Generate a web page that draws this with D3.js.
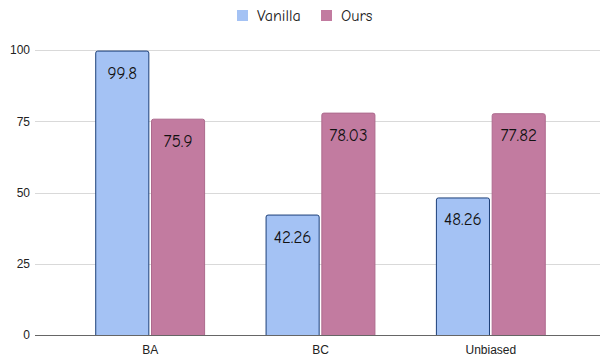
<!DOCTYPE html>
<html>
<head>
<meta charset="utf-8">
<script src="https://cdn.jsdelivr.net/npm/d3@7"></script>
<style>
  body { margin: 0; background: #fff; }
  svg { display: block; }
  .lbl { font-family: "Comic Sans MS", "Comic Neue", "DejaVu Sans", sans-serif; }
  .tick text { font-family: "Liberation Sans", Arial, sans-serif; }
</style>
</head>
<body>
<svg width="600" height="359"></svg>
<script>
var categories = ["BA", "BC", "Unbiased"];
var seriesNames = ["Vanilla", "Ours"];
var vanilla = [99.8, 42.26, 48.26];
var ours = [75.9, 78.03, 77.82];
var yTicks = [0, 25, 50, 75, 100];

var fills = { Vanilla: "#a4c2f4", Ours: "#c27ba0" };
var strokes = { Vanilla: "#1c3f78", Ours: "#ad6a8d" };

var svg = d3.select("svg"),
    width = +svg.attr("width"),
    height = +svg.attr("height");

var rows = categories.map(function (c, i) {
    return { cat: c, Vanilla: vanilla[i], Ours: ours[i] };
});

var y = d3.scaleLinear().domain([0, 100]).range([335, 50]);

var x0 = d3.scaleBand().domain(categories).range([65, 576]).paddingInner(0.355).paddingOuter(0.1775);
var x1 = d3.scaleBand().domain(seriesNames).range([0, x0.bandwidth()]).paddingInner(0.03);

// gridlines
svg.append("g")
    .selectAll("line")
    .data(yTicks)
    .enter().append("line")
    .attr("x1", 35).attr("x2", width)
    .attr("y1", function (d) { return Math.round(y(d)) + 0.5; })
    .attr("y2", function (d) { return Math.round(y(d)) + 0.5; })
    .attr("stroke", function (d) { return d === 0 ? "#666" : "#d9d9d9"; })
    .attr("stroke-width", 1);

// y axis labels
var yAxis = svg.append("g")
    .attr("transform", "translate(30,0)")
    .call(d3.axisLeft(y).tickValues(yTicks).tickSize(0).tickPadding(0));
yAxis.select(".domain").remove();
yAxis.selectAll("text").attr("font-size", 12).attr("fill", "#222");

// x axis labels
var xAxis = svg.append("g")
    .attr("transform", "translate(0,340)")
    .call(d3.axisBottom(x0).tickSize(0).tickPadding(5));
xAxis.select(".domain").remove();
xAxis.selectAll("text").attr("class", "lbl").attr("font-size", 12).attr("fill", "#222");

// bars
var groups = svg.append("g")
    .selectAll("g")
    .data(rows)
    .enter().append("g")
    .attr("transform", function (d) { return "translate(" + x0(d.cat) + ",0)"; });

var bars = groups.selectAll("g")
    .data(function (d) { return seriesNames.map(function (s) { return { key: s, value: d[s] }; }); })
    .enter().append("g");

bars.append("path")
    .attr("d", function (d) {
        var x = x1(d.key) + 0.5, w = x1.bandwidth() - 1, top = y(d.value) + 0.5, bot = y(0), r = 2;
        return "M" + x + "," + bot + "V" + (top + r) + "Q" + x + "," + top + " " + (x + r) + "," + top +
            "H" + (x + w - r) + "Q" + (x + w) + "," + top + " " + (x + w) + "," + (top + r) + "V" + bot;
    })
    .attr("fill", function (d) { return fills[d.key]; })
    .attr("stroke", function (d) { return strokes[d.key]; })
    .attr("stroke-width", 1);

bars.append("text")
    .attr("class", "lbl")
    .attr("x", function (d) { return x1(d.key) + x1.bandwidth() / 2; })
    .attr("y", function (d) { return y(d.value) + 28; })
    .attr("text-anchor", "middle")
    .attr("font-size", 17)
    .attr("fill", "#111")
    .text(function (d) { return d.value; });

// legend
var legend = svg.append("g").attr("transform", "translate(237,10)");
var items = legend.selectAll("g")
    .data(seriesNames)
    .enter().append("g")
    .attr("transform", function (d, i) { return "translate(" + (i * 84) + ",0)"; });
items.append("rect")
    .attr("width", 11).attr("height", 11)
    .attr("fill", function (d) { return fills[d]; });
items.append("text")
    .attr("class", "lbl")
    .attr("x", 20).attr("y", 11)
    .attr("font-size", 16)
    .attr("fill", "#222")
    .text(function (d) { return d; });
</script>
</body>
</html>
